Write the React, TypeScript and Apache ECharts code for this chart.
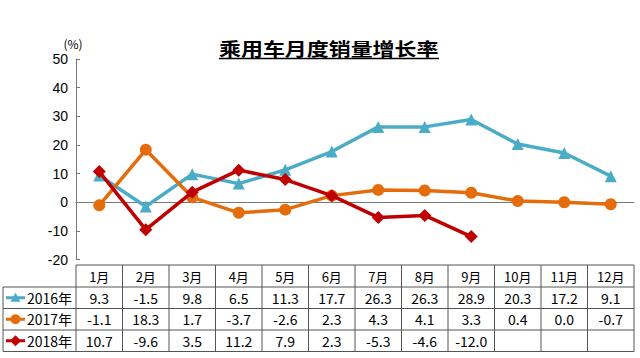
import React, { useEffect, useRef } from "react";
import * as echarts from "echarts";

const months = ["1月", "2月", "3月", "4月", "5月", "6月", "7月", "8月", "9月", "10月", "11月", "12月"];
const seriesNames = ["2016年", "2017年", "2018年"];
const v2016 = [9.3, -1.5, 9.8, 6.5, 11.3, 17.7, 26.3, 26.3, 28.9, 20.3, 17.2, 9.1];
const v2017 = [-1.1, 18.3, 1.7, -3.7, -2.6, 2.3, 4.3, 4.1, 3.3, 0.4, 0.0, -0.7];
const v2018 = [10.7, -9.6, 3.5, 11.2, 7.9, 2.3, -5.3, -4.6, -12.0];
const yTicks = { min: -20, max: 50, interval: 10 };
const titleText = "乘用车月度销量增长率";

const colors = ["#4BACC6", "#E46C0A", "#C00000"];
const symbols = ["triangle", "circle", "diamond"];

export default function App() {
  const ref = useRef<HTMLDivElement>(null);
  useEffect(() => {
    const chart = echarts.init(ref.current!, null, { renderer: "svg" });
    const gridLeft = 76;
    const gridRight = 6;
    const colW = (640 - gridLeft - gridRight) / 12;
    const tableTop = 265;
    const rowH = [22, 21.5, 21.5, 21.5];
    const rowY: number[] = [tableTop];
    rowH.forEach((h, i) => rowY.push(rowY[i] + h));
    const tableLeft = 3;
    const tableRight = 640 - gridRight;
    const lineStyle = { stroke: "#555", lineWidth: 1 };
    const g: any[] = [];
    g.push({ type: "line", shape: { x1: gridLeft, y1: rowY[0], x2: tableRight, y2: rowY[0] }, style: lineStyle });
    for (let r = 1; r <= 4; r++) {
      g.push({ type: "line", shape: { x1: tableLeft, y1: rowY[r], x2: tableRight, y2: rowY[r] }, style: lineStyle });
    }
    g.push({ type: "line", shape: { x1: tableLeft, y1: rowY[1], x2: tableLeft, y2: rowY[4] }, style: lineStyle });
    for (let c = 0; c <= 12; c++) {
      const x = gridLeft + c * colW;
      g.push({ type: "line", shape: { x1: x, y1: rowY[0], x2: x, y2: rowY[4] }, style: lineStyle });
    }
    const font = '"Noto Sans CJK SC", sans-serif';
    months.forEach((m, i) => {
      g.push({
        type: "text",
        x: gridLeft + colW * (i + 0.5),
        y: (rowY[0] + rowY[1]) / 2,
        style: { text: m, fill: "#000", font: `13px ${font}`, align: "center", verticalAlign: "middle" },
      });
    });
    const allVals = [v2016, v2017, v2018];
    allVals.forEach((vals, s) => {
      const cy = (rowY[s + 1] + rowY[s + 2]) / 2;
      vals.forEach((v, i) => {
        g.push({
          type: "text",
          x: gridLeft + colW * (i + 0.5),
          y: cy,
          style: { text: v.toFixed(1), fill: "#000", font: `14px ${font}`, align: "center", verticalAlign: "middle" },
        });
      });
      g.push({ type: "line", shape: { x1: 6, y1: cy, x2: 25, y2: cy }, style: { stroke: colors[s], lineWidth: 3 } });
      const mx = 15.5;
      if (s === 0) {
        g.push({ type: "polygon", shape: { points: [[mx, cy - 5], [mx - 5, cy + 4], [mx + 5, cy + 4]] }, style: { fill: colors[s] } });
      } else if (s === 1) {
        g.push({ type: "circle", shape: { cx: mx, cy, r: 5 }, style: { fill: colors[s] } });
      } else {
        g.push({ type: "polygon", shape: { points: [[mx, cy - 5.5], [mx + 5.5, cy], [mx, cy + 5.5], [mx - 5.5, cy]] }, style: { fill: colors[s] } });
      }
      g.push({
        type: "text",
        x: 27,
        y: cy,
        style: { text: seriesNames[s], fill: "#000", font: `14px ${font}`, align: "left", verticalAlign: "middle" },
      });
    });
    // title (horizontally stretched like the reference) and underline
    g.push({
      type: "text",
      x: 219,
      y: 48,
      scaleX: 1.22,
      z: 100,
      style: { text: titleText, fill: "#000", font: `bold 18px ${font}`, align: "left", verticalAlign: "middle" },
    });
    g.push({ type: "line", z: 100, shape: { x1: 219, y1: 58.5, x2: 439, y2: 58.5 }, style: { stroke: "#000", lineWidth: 1.5 } });
    g.push({
      type: "text",
      x: 73,
      y: 43,
      style: { text: "(%)", fill: "#000", font: `12px ${font}`, align: "center", verticalAlign: "middle" },
    });

    const mk = (data: number[], s: number) => ({
      name: seriesNames[s],
      type: "line",
      data,
      symbol: symbols[s],
      symbolSize: s === 2 ? 13 : 12,
      lineStyle: { color: colors[s], width: 3.5 },
      itemStyle: { color: colors[s] },
      z: 2 + s,
    });

    chart.setOption({
      animation: false,
      grid: { left: gridLeft, right: gridRight, top: 59, bottom: 358 - 259.5 },
      xAxis: {
        type: "category",
        data: months,
        boundaryGap: true,
        axisLine: { onZero: true, lineStyle: { color: "#777", width: 1 } },
        axisTick: { show: false },
        axisLabel: { show: false },
        splitLine: { show: false },
      },
      yAxis: {
        type: "value",
        min: yTicks.min,
        max: yTicks.max,
        interval: yTicks.interval,
        axisLine: { show: true, lineStyle: { color: "#777", width: 1 } },
        axisTick: { show: true, inside: true, length: 4, lineStyle: { color: "#777" } },
        axisLabel: { color: "#000", fontSize: 14, fontFamily: '"Liberation Sans", Arial, sans-serif', margin: 8 },
        splitLine: { show: false },
      },
      series: [mk(v2016, 0), mk(v2017, 1), mk(v2018, 2)],
      graphic: g,
    });
    return () => chart.dispose();
  }, []);
  return <div ref={ref} style={{ position: "fixed", left: 0, top: 0, width: 640, height: 358, background: "#fff" }} />;
}
